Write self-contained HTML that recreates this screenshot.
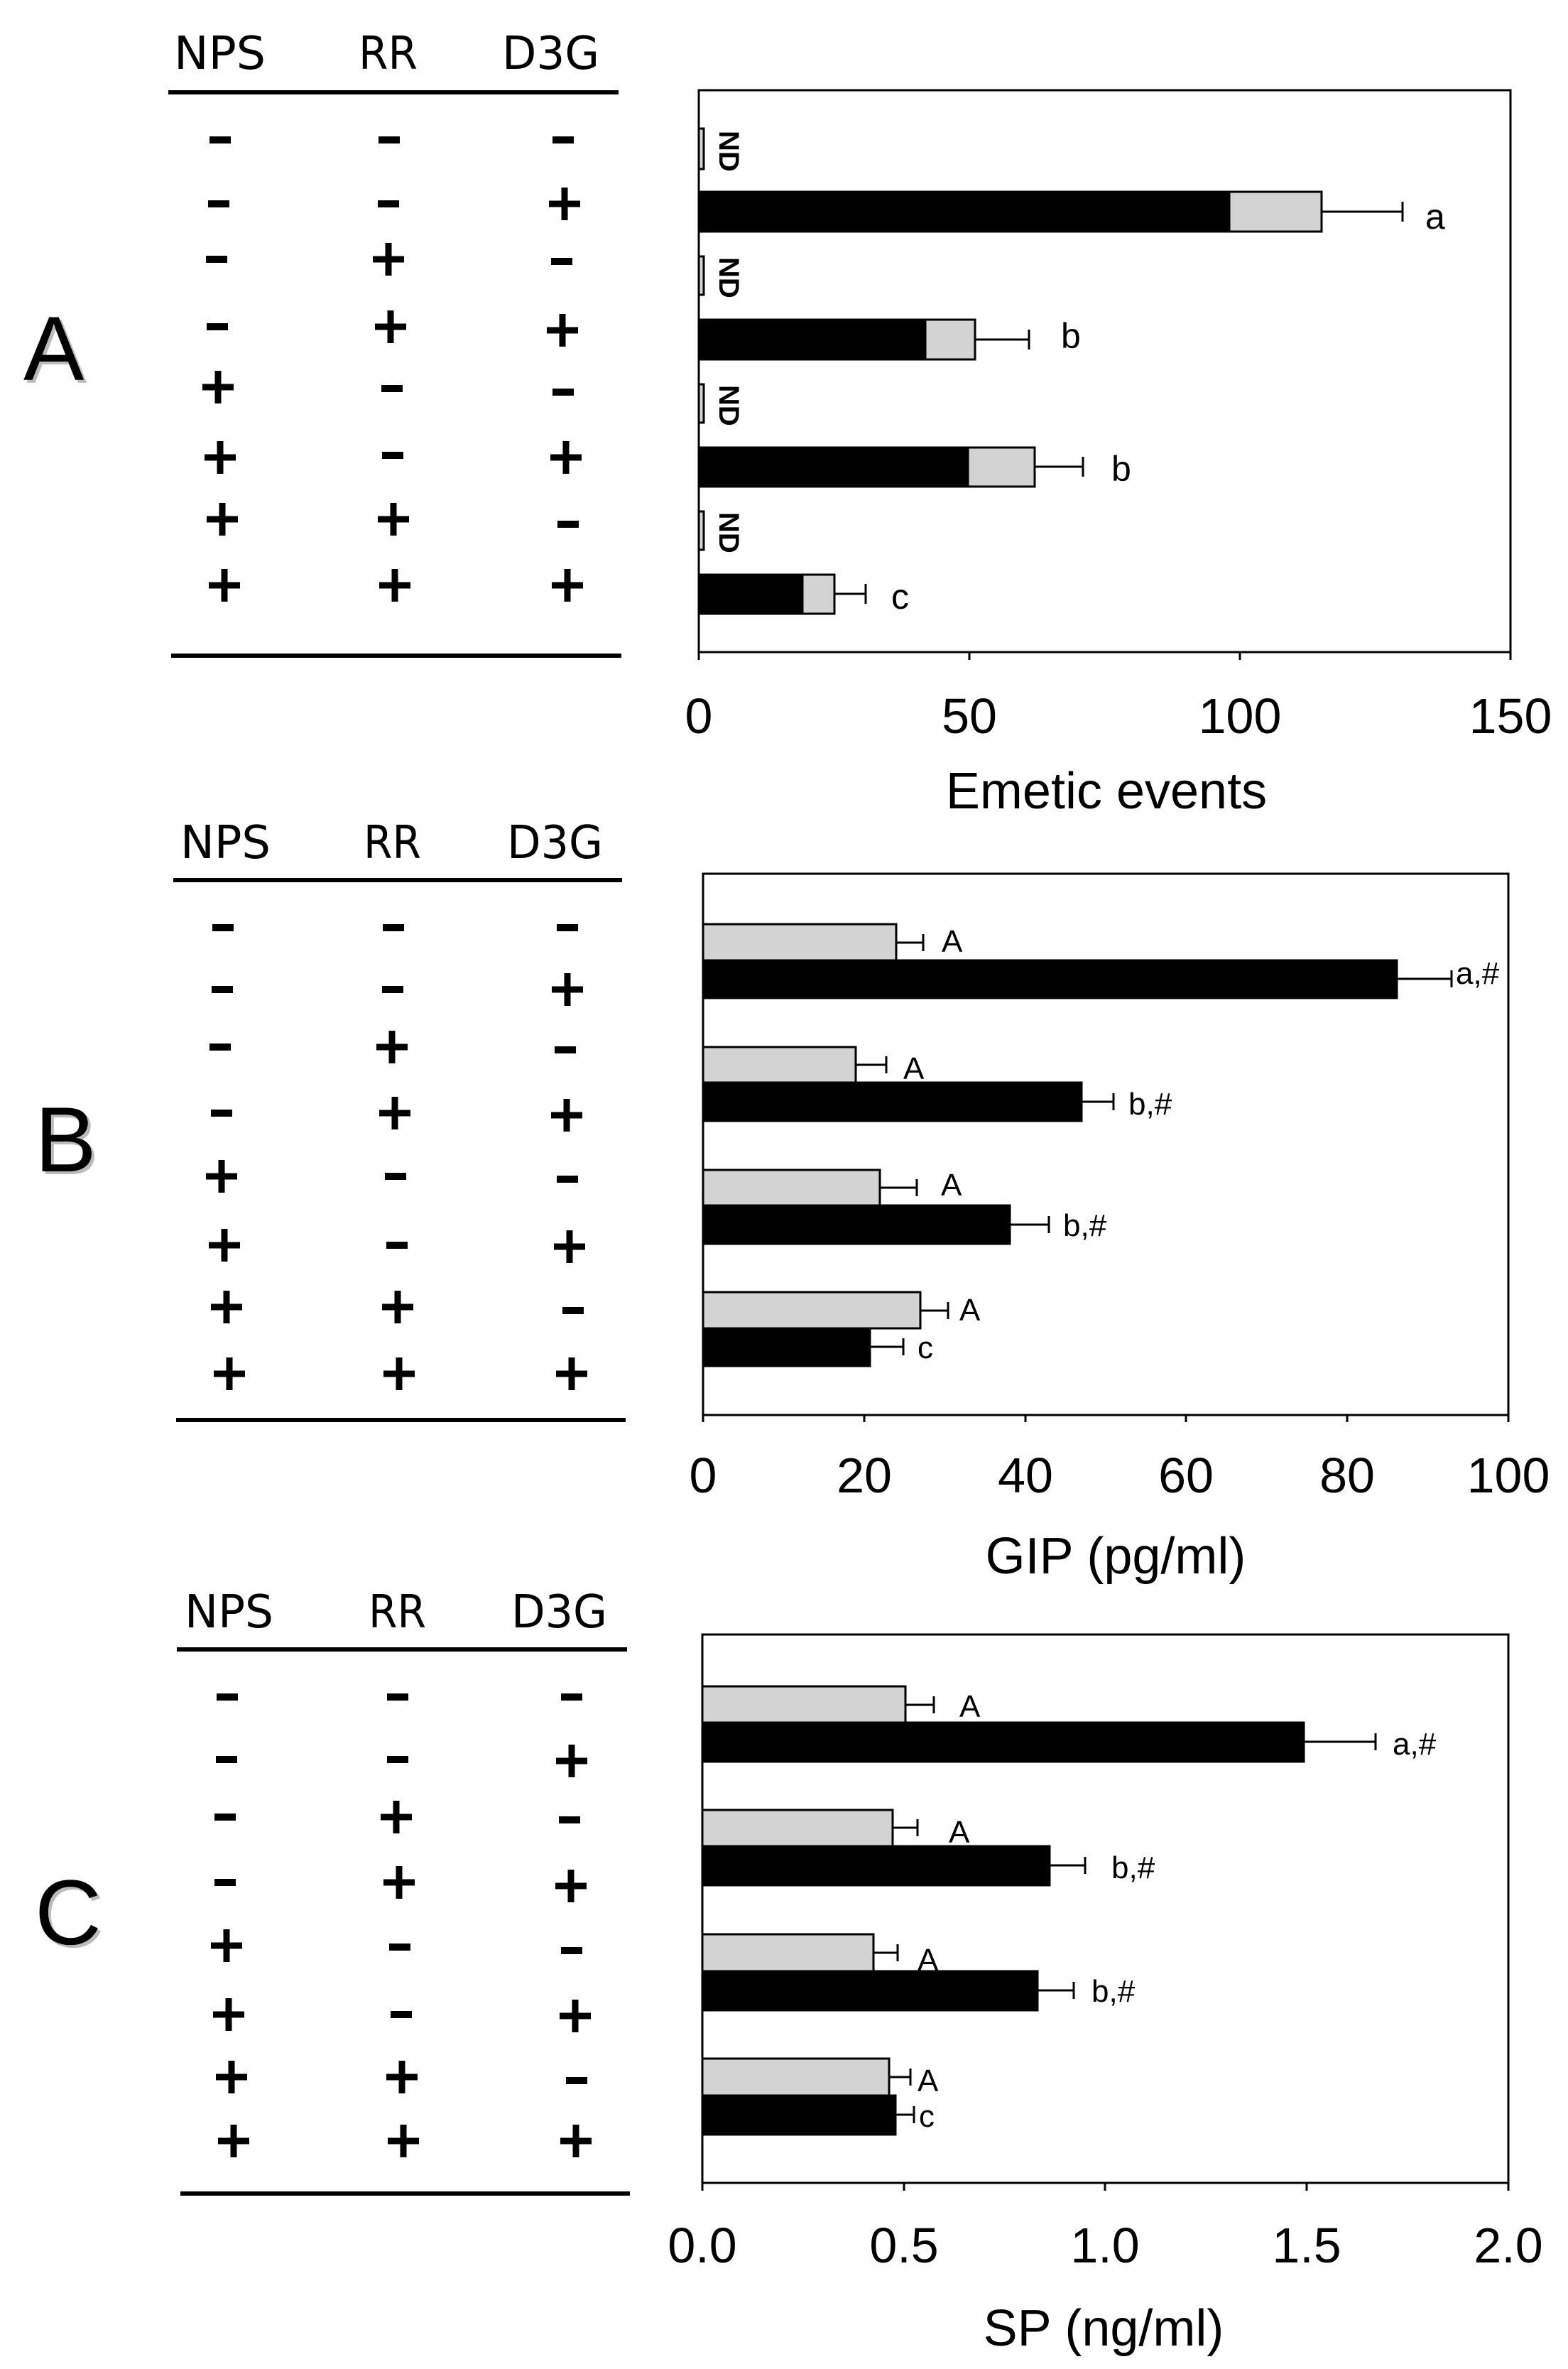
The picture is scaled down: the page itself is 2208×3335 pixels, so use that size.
<!DOCTYPE html>
<html><head><meta charset="utf-8"><style>
html,body{margin:0;padding:0;background:#fff;}
svg{display:block;}
text{font-family:"Liberation Sans",Arial,sans-serif;fill:#000;}
.hd{font-family:"DejaVu Sans","Liberation Sans",sans-serif;font-size:64px;}
.tk{font-size:70px;text-anchor:middle;}
.tt{font-size:72px;text-anchor:middle;}
.lt{font-size:50px;}
.sm{font-size:44px;}
</style></head><body>
<svg width="2208" height="3335" viewBox="0 0 2208 3335" xmlns="http://www.w3.org/2000/svg">
<defs>
<g id="p"><rect x="-22" y="-4.5" width="44" height="9"/><rect x="-4.5" y="-23" width="9" height="46"/></g>
<g id="m"><rect x="-15" y="-5" width="30" height="10"/></g>
</defs>

<text x="37" y="539" font-size="128" style="fill:#bbb">A</text>
<text x="33" y="535" font-size="128">A</text>
<text x="53" y="1653" font-size="130" style="fill:#bbb">B</text>
<text x="49" y="1649" font-size="130">B</text>
<text x="53" y="2741" font-size="130" style="fill:#bbb">C</text>
<text x="49" y="2737" font-size="130">C</text>

<text class="hd" x="245" y="97" textLength="129" lengthAdjust="spacingAndGlyphs">NPS</text>
<text class="hd" x="505" y="97" textLength="83" lengthAdjust="spacingAndGlyphs">RR</text>
<text class="hd" x="707" y="97" textLength="137" lengthAdjust="spacingAndGlyphs">D3G</text>
<rect x="237" y="127" width="634" height="6"/>
<rect x="241" y="920" width="634" height="6"/>
<use href="#m" x="310" y="197"/><use href="#m" x="548" y="197"/><use href="#m" x="793" y="197"/>
<use href="#m" x="308" y="287"/><use href="#m" x="547" y="287"/><use href="#p" x="795" y="287"/>
<use href="#m" x="305" y="365"/><use href="#p" x="547" y="365"/><use href="#m" x="791" y="368"/>
<use href="#m" x="306" y="460"/><use href="#p" x="550" y="460"/><use href="#p" x="792" y="465"/>
<use href="#p" x="307" y="545"/><use href="#m" x="552" y="547"/><use href="#m" x="793" y="552"/>
<use href="#p" x="310" y="644"/><use href="#m" x="553" y="641"/><use href="#p" x="797" y="644"/>
<use href="#p" x="313" y="731"/><use href="#p" x="554" y="731"/><use href="#m" x="800" y="738"/>
<use href="#p" x="316" y="824"/><use href="#p" x="556" y="824"/><use href="#p" x="799" y="824"/>

<text class="hd" x="254" y="1208" textLength="127" lengthAdjust="spacingAndGlyphs">NPS</text>
<text class="hd" x="512" y="1208" textLength="81" lengthAdjust="spacingAndGlyphs">RR</text>
<text class="hd" x="714" y="1208" textLength="135" lengthAdjust="spacingAndGlyphs">D3G</text>
<rect x="244" y="1236" width="632" height="6"/>
<rect x="248" y="1996" width="633" height="6"/>
<use href="#m" x="314" y="1306"/><use href="#m" x="554" y="1306"/><use href="#m" x="799" y="1306"/>
<use href="#m" x="313" y="1393"/><use href="#m" x="553" y="1393"/><use href="#p" x="799" y="1393"/>
<use href="#m" x="310" y="1474"/><use href="#p" x="552" y="1474"/><use href="#m" x="796" y="1478"/>
<use href="#m" x="312" y="1567"/><use href="#p" x="556" y="1567"/><use href="#p" x="798" y="1570"/>
<use href="#p" x="312" y="1656"/><use href="#m" x="557" y="1656"/><use href="#m" x="799" y="1660"/>
<use href="#p" x="316" y="1753"/><use href="#m" x="559" y="1753"/><use href="#p" x="802" y="1755"/>
<use href="#p" x="319" y="1840"/><use href="#p" x="560" y="1840"/><use href="#m" x="807" y="1845"/>
<use href="#p" x="323" y="1934"/><use href="#p" x="562" y="1934"/><use href="#p" x="805" y="1934"/>

<text class="hd" x="260" y="2291" textLength="125" lengthAdjust="spacingAndGlyphs">NPS</text>
<text class="hd" x="519" y="2291" textLength="81" lengthAdjust="spacingAndGlyphs">RR</text>
<text class="hd" x="720" y="2291" textLength="135" lengthAdjust="spacingAndGlyphs">D3G</text>
<rect x="249" y="2319" width="634" height="6"/>
<rect x="254" y="3085" width="633" height="6"/>
<use href="#m" x="320" y="2389"/><use href="#m" x="560" y="2389"/><use href="#m" x="805" y="2389"/>
<use href="#m" x="319" y="2477"/><use href="#m" x="560" y="2477"/><use href="#p" x="805" y="2479"/>
<use href="#m" x="317" y="2558"/><use href="#p" x="558" y="2558"/><use href="#m" x="802" y="2562"/>
<use href="#m" x="317" y="2650"/><use href="#p" x="562" y="2650"/><use href="#p" x="804" y="2655"/>
<use href="#p" x="319" y="2739"/><use href="#m" x="563" y="2741"/><use href="#m" x="805" y="2746"/>
<use href="#p" x="322" y="2836"/><use href="#m" x="565" y="2836"/><use href="#p" x="810" y="2838"/>
<use href="#p" x="326" y="2924"/><use href="#p" x="566" y="2924"/><use href="#m" x="812" y="2929"/>
<use href="#p" x="329" y="3014"/><use href="#p" x="568" y="3014"/><use href="#p" x="811" y="3014"/>

<g stroke="#000" stroke-width="3" fill="none">
<rect x="984" y="127" width="1143" height="791"/>
<line x1="984" y1="918" x2="984" y2="929"/><line x1="1365" y1="918" x2="1365" y2="929"/>
<line x1="1746" y1="918" x2="1746" y2="929"/><line x1="2127" y1="918" x2="2127" y2="929"/>
<rect x="984" y="181" width="7" height="57" fill="#d3d3d3"/>
<rect x="984" y="361" width="7" height="54" fill="#d3d3d3"/>
<rect x="984" y="541" width="7" height="54" fill="#d3d3d3"/>
<rect x="984" y="720" width="7" height="54" fill="#d3d3d3"/>
<rect x="984" y="270" width="747" height="56" fill="#000"/>
<rect x="1731" y="270" width="130" height="56" fill="#d3d3d3"/>
<line x1="1861" y1="298" x2="1975" y2="298"/><line x1="1975" y1="284" x2="1975" y2="312"/>
<rect x="984" y="450" width="319" height="56" fill="#000"/>
<rect x="1303" y="450" width="70" height="56" fill="#d3d3d3"/>
<line x1="1373" y1="478" x2="1449" y2="478"/><line x1="1449" y1="464" x2="1449" y2="492"/>
<rect x="984" y="630" width="379" height="55" fill="#000"/>
<rect x="1363" y="630" width="94" height="55" fill="#d3d3d3"/>
<line x1="1457" y1="657" x2="1525" y2="657"/><line x1="1525" y1="643" x2="1525" y2="671"/>
<rect x="984" y="809" width="146" height="55" fill="#000"/>
<rect x="1130" y="809" width="45" height="55" fill="#d3d3d3"/>
<line x1="1175" y1="836" x2="1219" y2="836"/><line x1="1219" y1="822" x2="1219" y2="850"/>
</g>
<g font-weight="bold" font-size="40">
<text transform="translate(1013,184) rotate(90)">ND</text>
<text transform="translate(1013,362) rotate(90)">ND</text>
<text transform="translate(1013,542) rotate(90)">ND</text>
<text transform="translate(1013,721) rotate(90)">ND</text>
</g>
<text class="lt" x="2007" y="322">a</text>
<text class="lt" x="1494" y="490">b</text>
<text class="lt" x="1565" y="677">b</text>
<text class="lt" x="1255" y="857">c</text>
<text class="tk" x="984" y="1032">0</text><text class="tk" x="1365" y="1032">50</text>
<text class="tk" x="1746" y="1032">100</text><text class="tk" x="2127" y="1032">150</text>
<text class="tt" x="1558" y="1138">Emetic events</text>

<g stroke="#000" stroke-width="3" fill="none">
<rect x="990" y="1230" width="1134" height="762"/>
<line x1="990" y1="1992" x2="990" y2="2002"/><line x1="1217" y1="1992" x2="1217" y2="2002"/>
<line x1="1444" y1="1992" x2="1444" y2="2002"/><line x1="1670" y1="1992" x2="1670" y2="2002"/>
<line x1="1897" y1="1992" x2="1897" y2="2002"/><line x1="2124" y1="1992" x2="2124" y2="2002"/>
<rect x="990" y="1301" width="272" height="51" fill="#d3d3d3"/>
<line x1="1262" y1="1327" x2="1300" y2="1327"/><line x1="1300" y1="1315" x2="1300" y2="1339"/>
<rect x="990" y="1352" width="977" height="53" fill="#000"/>
<line x1="1967" y1="1378" x2="2044" y2="1378"/><line x1="2044" y1="1366" x2="2044" y2="1390"/>
<rect x="990" y="1474" width="215" height="50" fill="#d3d3d3"/>
<line x1="1205" y1="1499" x2="1248" y2="1499"/><line x1="1248" y1="1487" x2="1248" y2="1511"/>
<rect x="990" y="1524" width="533" height="54" fill="#000"/>
<line x1="1523" y1="1551" x2="1568" y2="1551"/><line x1="1568" y1="1539" x2="1568" y2="1563"/>
<rect x="990" y="1647" width="249" height="50" fill="#d3d3d3"/>
<line x1="1239" y1="1672" x2="1291" y2="1672"/><line x1="1291" y1="1660" x2="1291" y2="1684"/>
<rect x="990" y="1697" width="432" height="54" fill="#000"/>
<line x1="1422" y1="1724" x2="1477" y2="1724"/><line x1="1477" y1="1712" x2="1477" y2="1736"/>
<rect x="990" y="1819" width="306" height="51" fill="#d3d3d3"/>
<line x1="1296" y1="1845" x2="1335" y2="1845"/><line x1="1335" y1="1833" x2="1335" y2="1857"/>
<rect x="990" y="1870" width="235" height="53" fill="#000"/>
<line x1="1225" y1="1896" x2="1272" y2="1896"/><line x1="1272" y1="1884" x2="1272" y2="1908"/>
</g>
<text class="sm" x="1326" y="1340">A</text>
<text class="sm" x="2050" y="1385">a,#</text>
<text class="sm" x="1272" y="1519">A</text>
<text class="sm" x="1589" y="1569">b,#</text>
<text class="sm" x="1325" y="1683">A</text>
<text class="sm" x="1497" y="1740">b,#</text>
<text class="sm" x="1351" y="1859">A</text>
<text class="sm" x="1292" y="1912">c</text>
<text class="tk" x="990" y="2101">0</text><text class="tk" x="1217" y="2101">20</text>
<text class="tk" x="1444" y="2101">40</text><text class="tk" x="1670" y="2101">60</text>
<text class="tk" x="1897" y="2101">80</text><text class="tk" x="2124" y="2101">100</text>
<text class="tt" x="1571" y="2215">GIP (pg/ml)</text>

<g stroke="#000" stroke-width="3" fill="none">
<rect x="989" y="2301" width="1135" height="772"/>
<line x1="989" y1="3073" x2="989" y2="3084"/><line x1="1273" y1="3073" x2="1273" y2="3084"/>
<line x1="1556" y1="3073" x2="1556" y2="3084"/><line x1="1840" y1="3073" x2="1840" y2="3084"/>
<line x1="2124" y1="3073" x2="2124" y2="3084"/>
<rect x="989" y="2374" width="286" height="51" fill="#d3d3d3"/>
<line x1="1275" y1="2400" x2="1315" y2="2400"/><line x1="1315" y1="2388" x2="1315" y2="2412"/>
<rect x="989" y="2425" width="847" height="55" fill="#000"/>
<line x1="1836" y1="2452" x2="1937" y2="2452"/><line x1="1937" y1="2440" x2="1937" y2="2464"/>
<rect x="989" y="2548" width="268" height="51" fill="#d3d3d3"/>
<line x1="1257" y1="2573" x2="1292" y2="2573"/><line x1="1292" y1="2561" x2="1292" y2="2585"/>
<rect x="989" y="2599" width="489" height="55" fill="#000"/>
<line x1="1478" y1="2626" x2="1528" y2="2626"/><line x1="1528" y1="2614" x2="1528" y2="2638"/>
<rect x="989" y="2723" width="241" height="52" fill="#d3d3d3"/>
<line x1="1230" y1="2749" x2="1264" y2="2749"/><line x1="1264" y1="2737" x2="1264" y2="2761"/>
<rect x="989" y="2775" width="472" height="55" fill="#000"/>
<line x1="1461" y1="2802" x2="1512" y2="2802"/><line x1="1512" y1="2790" x2="1512" y2="2814"/>
<rect x="989" y="2898" width="263" height="52" fill="#d3d3d3"/>
<line x1="1252" y1="2924" x2="1282" y2="2924"/><line x1="1282" y1="2912" x2="1282" y2="2936"/>
<rect x="989" y="2950" width="272" height="55" fill="#000"/>
<line x1="1261" y1="2977" x2="1287" y2="2977"/><line x1="1287" y1="2965" x2="1287" y2="2989"/>
</g>
<text class="sm" x="1351" y="2417">A</text>
<text class="sm" x="1961" y="2470">a,#</text>
<text class="sm" x="1336" y="2594">A</text>
<text class="sm" x="1565" y="2644">b,#</text>
<text class="sm" x="1292" y="2774">A</text>
<text class="sm" x="1537" y="2818">b,#</text>
<text class="sm" x="1292" y="2944">A</text>
<text class="sm" x="1294" y="2994">c</text>
<text class="tk" x="989" y="3185">0.0</text><text class="tk" x="1273" y="3185">0.5</text>
<text class="tk" x="1556" y="3185">1.0</text><text class="tk" x="1840" y="3185">1.5</text>
<text class="tk" x="2124" y="3185">2.0</text>
<text class="tt" x="1554" y="3302">SP (ng/ml)</text>
</svg>
</body></html>
